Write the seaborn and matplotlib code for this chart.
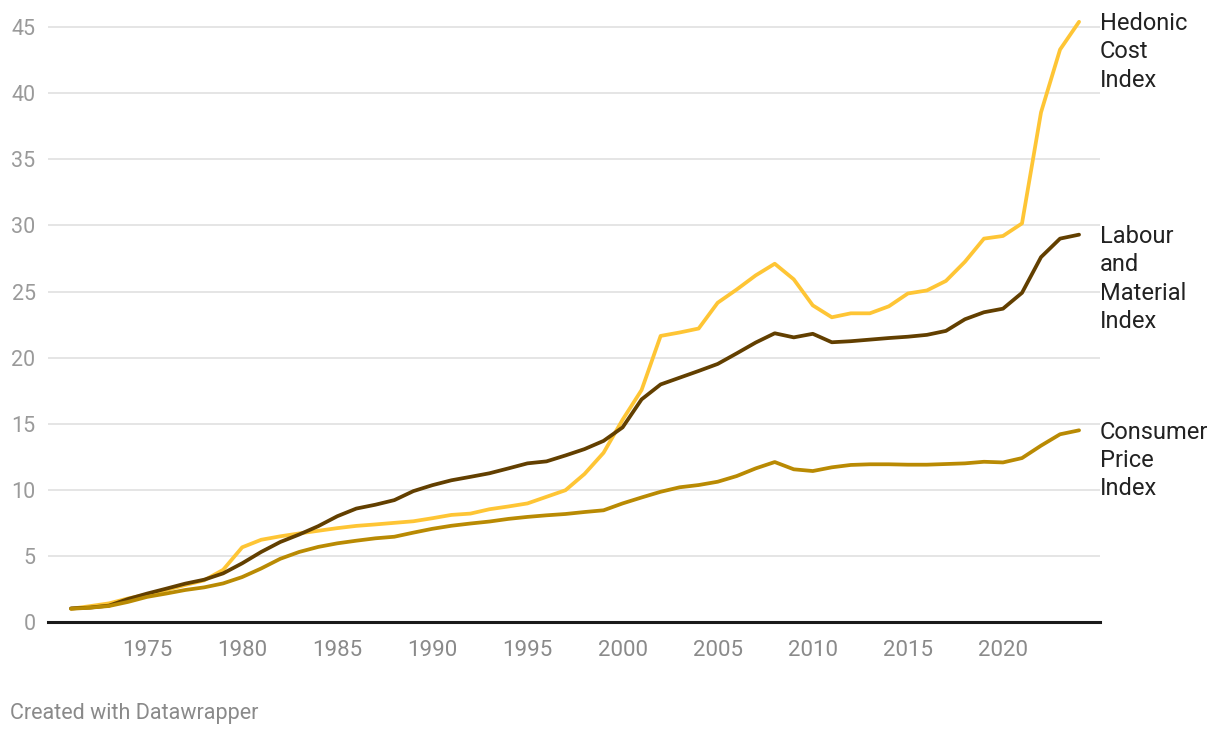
import numpy as np
import pandas as pd
import matplotlib
matplotlib.use("Agg")
import matplotlib.pyplot as plt
import seaborn as sns

years = list(range(1971, 2025))

hedonic = [1.0, 1.2, 1.41, 1.78, 2.08, 2.42, 2.8, 3.15, 3.95, 5.65,
           6.22, 6.48, 6.7, 6.9, 7.1, 7.27, 7.38, 7.5, 7.62, 7.85,
           8.1, 8.2, 8.53, 8.74, 8.97, 9.47, 9.97, 11.2, 12.8, 15.3,
           17.55, 21.64, 21.9, 22.2, 24.15, 25.15, 26.22, 27.1, 25.92, 23.95,
           23.05, 23.35, 23.35, 23.88, 24.85, 25.08, 25.8, 27.25, 29.0, 29.2,
           30.15, 38.55, 43.3, 45.4]

labour = [1.03, 1.09, 1.24, 1.74, 2.15, 2.52, 2.9, 3.2, 3.68, 4.44,
          5.3, 6.05, 6.62, 7.25, 8.0, 8.58, 8.87, 9.22, 9.9, 10.35,
          10.72, 10.98, 11.25, 11.62, 12.0, 12.15, 12.6, 13.08, 13.7, 14.72,
          16.84, 17.97, 18.48, 18.99, 19.52, 20.32, 21.14, 21.84, 21.53, 21.8,
          21.16, 21.24, 21.36, 21.48, 21.58, 21.72, 22.02, 22.9, 23.43, 23.7,
          24.9, 27.6, 29.0, 29.3]

cpi = [1.0, 1.08, 1.21, 1.52, 1.9, 2.15, 2.42, 2.62, 2.92, 3.4,
       4.05, 4.78, 5.3, 5.68, 5.95, 6.15, 6.33, 6.45, 6.76, 7.05,
       7.28, 7.45, 7.6, 7.8, 7.95, 8.07, 8.17, 8.32, 8.45, 8.97,
       9.42, 9.85, 10.19, 10.36, 10.61, 11.04, 11.62, 12.1, 11.55, 11.42,
       11.7, 11.88, 11.93, 11.93, 11.9, 11.9, 11.95, 12.0, 12.12, 12.07,
       12.4, 13.34, 14.2, 14.5]

series_names = ["Hedonic\nCost\nIndex", "Labour\nand\nMaterial\nIndex", "Consumer\nPrice\nIndex"]
series_colors = ["#fec535", "#623f00", "#b98a03"]
y_ticks = [0, 5, 10, 15, 20, 25, 30, 35, 40, 45]
x_ticks = [1975, 1980, 1985, 1990, 1995, 2000, 2005, 2010, 2015, 2020]

df = pd.concat([
    pd.DataFrame({"year": years, "value": vals, "series": name})
    for name, vals in zip(series_names, [hedonic, labour, cpi])
], ignore_index=True)

sns.set_style("white")
plt.rcParams["font.family"] = ["Roboto", "DejaVu Sans"]

W, H = 1220, 738
fig = plt.figure(figsize=(W / 100, H / 100), dpi=100)
ax_left, ax_right = 48, 1100
y0_px = 622
px_per_unit = 13.22
ymax = 46
top_px = y0_px - ymax * px_per_unit
ax = fig.add_axes([ax_left / W, 1 - y0_px / H, (ax_right - ax_left) / W, (y0_px - top_px) / H])

px_per_year = 19.02
x0 = 1971 - (71 - ax_left) / px_per_year
x1 = 1971 + (ax_right - 71) / px_per_year

sns.lineplot(data=df, x="year", y="value", hue="series", palette=series_colors,
             linewidth=2.7, ax=ax, legend=False, zorder=3)

ax.set_xlim(x0, x1)
ax.set_ylim(0, ymax)
ax.set_yticks(y_ticks)
ax.set_xticks(x_ticks)
ax.set_yticklabels([str(t) for t in y_ticks])
ax.set_xticklabels([str(t) for t in x_ticks])
ax.set_xlabel("")
ax.set_ylabel("")
ax.grid(axis="y", color="#e3e3e3", linewidth=1.3, zorder=0)
ax.grid(axis="x", visible=False)
for s in ["top", "right", "left"]:
    ax.spines[s].set_visible(False)
ax.spines["bottom"].set_color("#1a1a1a")
ax.spines["bottom"].set_linewidth(2.2)
ax.spines["bottom"].set_zorder(4)
ax.tick_params(axis="y", length=0, pad=9, labelsize=15.5, labelcolor="#9a9a9a")
ax.tick_params(axis="x", length=0, pad=13, labelsize=16, labelcolor="#8a8a8a")

for name, vals, col in zip(series_names, [hedonic, labour, cpi], series_colors):
    ax.annotate(name, xy=(years[-1], vals[-1]), xytext=(15, 7), textcoords="offset points",
                ha="left", va="top", fontsize=17, color="#222222", linespacing=1.3,
                annotation_clip=False)

fig.text(10 / W, 1 - 714 / H, "Created with Datawrapper", ha="left", va="center",
         fontsize=15.5, color="#8a8a8a")

fig.savefig("out.png", dpi=100)
